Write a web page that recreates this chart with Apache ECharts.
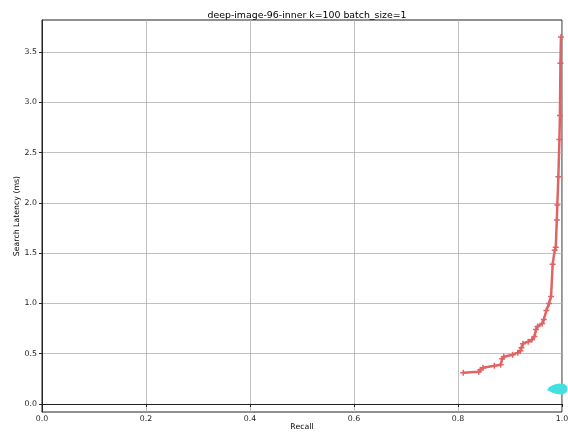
<!DOCTYPE html>
<html><head><meta charset="utf-8">
<script src="https://cdn.jsdelivr.net/npm/echarts@6/dist/echarts.min.js"></script>
<style>html,body{margin:0;padding:0;background:#fff}#c{width:568px;height:432px}</style>
</head><body><div id="c"></div>
<script>
const title = 'deep-image-96-inner k=100 batch_size=1';
const xTicks = [0.0, 0.2, 0.4, 0.6, 0.8, 1.0];
const yTicks = [0.0, 0.5, 1.0, 1.5, 2.0, 2.5, 3.0, 3.5];
const redRecall = [0.810,0.840,0.843,0.848,0.870,0.882,0.885,0.888,0.905,0.915,0.920,0.922,0.925,0.935,0.942,0.947,0.950,0.953,0.962,0.965,0.970,0.975,0.979,0.982,0.986,0.988,0.990,0.991,0.993,0.995,0.996,0.997,0.998];
const redLatency = [0.31,0.32,0.34,0.36,0.38,0.39,0.45,0.47,0.49,0.51,0.53,0.56,0.60,0.62,0.64,0.67,0.74,0.77,0.80,0.84,0.93,1.00,1.07,1.39,1.53,1.56,1.83,1.98,2.26,2.63,2.87,3.39,3.65];
const cyanRecall = [0.975,0.980,0.985,0.990,0.995,1.0];
const cyanLatency = [0.145,0.148,0.15,0.15,0.15,0.15];

const chart = echarts.init(document.getElementById('c'), null, {renderer:'canvas'});
const font = 'DejaVu Sans';
const cyanSizes = [3,6,8,10,11,11];
chart.setOption({
  animation:false,
  title:{text:title,left:302,top:6,textAlign:'center',textStyle:{fontFamily:font,fontSize:9.4,fontWeight:'normal',color:'#000'}},
  grid:{left:42,right:6,top:20,bottom:20,outerBoundsMode:'none',containLabel:false,show:true,borderColor:'#222',borderWidth:1,backgroundColor:'transparent'},
  xAxis:{type:'value',min:0,max:1,interval:0.2,
    name:'Recall',nameLocation:'middle',nameGap:11,nameMoveOverlap:false,nameTextStyle:{fontFamily:font,fontSize:7.8,color:'#000'},
    axisLine:{show:true,lineStyle:{color:'#222'}},
    axisTick:{show:true,length:3,inside:false,lineStyle:{color:'#222'}},
    axisLabel:{fontFamily:font,fontSize:7.8,color:'#222',margin:3,formatter:v=>v.toFixed(1),
      customValues:xTicks},
    splitLine:{show:true,lineStyle:{color:'#b0b0b0',width:0.8}}},
  yAxis:{type:'value',min:-0.08,max:3.82,
    name:'Search Latency (ms)',nameLocation:'middle',nameGap:21,nameMoveOverlap:false,nameRotate:90,nameTextStyle:{fontFamily:font,fontSize:7.8,color:'#000'},
    axisLine:{show:true,lineStyle:{color:'#222'}},
    axisTick:{show:true,length:3,customValues:yTicks,lineStyle:{color:'#222'}},
    axisLabel:{fontFamily:font,fontSize:7.8,color:'#222',margin:5,formatter:v=>v.toFixed(1),customValues:yTicks},
    splitLine:{show:true,lineStyle:{color:'#b0b0b0',width:0.8}}},
  series:[
    {type:'line',data:redRecall.map((r,i)=>[r,redLatency[i]]),
      lineStyle:{color:'#e06464',width:2.5},
      symbol:'path://M-1,0L1,0M0,-1L0,1',symbolSize:6,showSymbol:true,clip:true,
      itemStyle:{color:'#e06464',borderColor:'#e06464',borderWidth:1.5},z:3},
    {type:'line',data:cyanRecall.map((r,i)=>[r,cyanLatency[i]]),
      lineStyle:{color:'#44e0e0',width:3},itemStyle:{color:'#44e0e0'},
      symbol:'circle',symbolSize:(v,p)=>cyanSizes[p.dataIndex],showSymbol:true,clip:true,z:4}
  ]
});
</script></body></html>
